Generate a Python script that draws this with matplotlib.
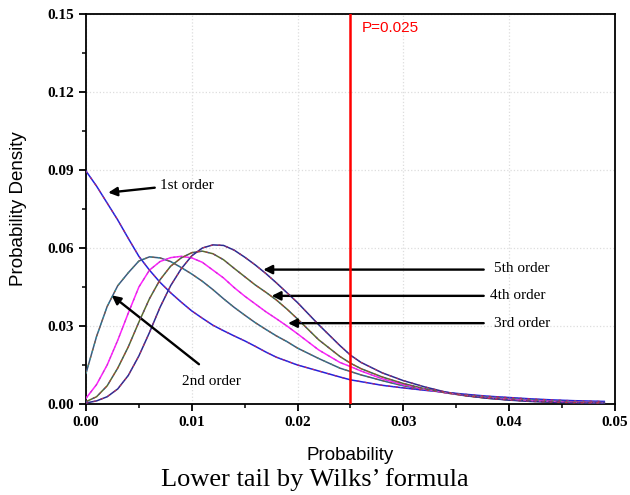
import matplotlib
matplotlib.use("Agg")
import matplotlib.pyplot as plt
from matplotlib.ticker import MultipleLocator

# probability axis (shared by all curves)
prob = [0.000, 0.001, 0.002, 0.003, 0.004, 0.005, 0.006, 0.007, 0.008, 0.009,
        0.010, 0.011, 0.012, 0.013, 0.014, 0.015, 0.016, 0.017, 0.018, 0.019,
        0.020, 0.022, 0.024, 0.025, 0.026, 0.028, 0.030, 0.032, 0.034, 0.036,
        0.038, 0.040, 0.042, 0.044, 0.046, 0.049]

order1 = [0.0896, 0.0838, 0.0773, 0.0708, 0.0637, 0.0568, 0.0515, 0.0468, 0.0428, 0.0392,
          0.0358, 0.0330, 0.0303, 0.0282, 0.0262, 0.0243, 0.0222, 0.0200, 0.0180, 0.0165,
          0.0150, 0.0127, 0.0104, 0.0093, 0.0086, 0.0072, 0.0062, 0.0053, 0.0045, 0.0037,
          0.0030, 0.0025, 0.0020, 0.0016, 0.0013, 0.0010]
order2 = [0.0118, 0.0260, 0.0375, 0.0455, 0.0505, 0.0550, 0.0566, 0.0562, 0.0548, 0.0525,
          0.0500, 0.0472, 0.0440, 0.0405, 0.0372, 0.0342, 0.0313, 0.0287, 0.0262, 0.0240,
          0.0215, 0.0175, 0.0138, 0.0125, 0.0112, 0.0090, 0.0070, 0.0056, 0.0044, 0.0034,
          0.0027, 0.0021, 0.0016, 0.0012, 0.0009, 0.0006]
order3 = [0.0022, 0.0075, 0.0150, 0.0245, 0.0350, 0.0450, 0.0515, 0.0548, 0.0563, 0.0568,
          0.0562, 0.0545, 0.0515, 0.0485, 0.0448, 0.0415, 0.0385, 0.0355, 0.0328, 0.0300,
          0.0270, 0.0208, 0.0160, 0.0144, 0.0127, 0.0097, 0.0074, 0.0057, 0.0043, 0.0032,
          0.0024, 0.0018, 0.0013, 0.0010, 0.0007, 0.0005]
order4 = [0.0009, 0.0028, 0.0070, 0.0138, 0.0220, 0.0315, 0.0405, 0.0478, 0.0530, 0.0562,
          0.0582, 0.0588, 0.0578, 0.0555, 0.0522, 0.0490, 0.0458, 0.0430, 0.0400, 0.0365,
          0.0327, 0.0247, 0.0183, 0.0157, 0.0136, 0.0104, 0.0079, 0.0059, 0.0043, 0.0031,
          0.0022, 0.0016, 0.0011, 0.0008, 0.0006, 0.0004]
order5 = [0.0004, 0.0012, 0.0028, 0.0058, 0.0110, 0.0185, 0.0275, 0.0372, 0.0455, 0.0520,
          0.0570, 0.0600, 0.0612, 0.0610, 0.0592, 0.0565, 0.0535, 0.0502, 0.0466, 0.0428,
          0.0390, 0.0305, 0.0225, 0.0188, 0.0160, 0.0120, 0.0090, 0.0066, 0.0046, 0.0032,
          0.0022, 0.0015, 0.0010, 0.0007, 0.0005, 0.0004]

curves = [order1, order2, order3, order4, order5]
# each curve is a blend of overlapped coloured traces in the original
curve_colors = [("#2020e0", "#d02050", "#6040c0"),
                ("#3c5a80", "#8a6040", "#20a0a0"),
                ("#ff20ff", "#c040c0", "#e030e0"),
                ("#5a6a30", "#b04040", "#3050a0"),
                ("#2a2a90", "#c03050", "#603090")]

P_LINE = 0.025

fig = plt.figure(figsize=(6.3, 4.95), dpi=100)
ax = fig.add_axes([0.1365, 0.1838, 0.8395, 0.7879])

for ys, (c1, c2, c3) in zip(curves, curve_colors):
    ax.plot(prob, ys, color=c1, lw=1.1, zorder=3)
    ax.plot(prob, ys, color=c2, lw=0.8, dashes=(2, 5), zorder=4)
    ax.plot(prob, ys, color=c3, lw=0.7, dashes=(1.5, 6), zorder=4)

ax.axvline(P_LINE, color="red", lw=1.8, zorder=5)
ax.text(P_LINE + 0.0011, 0.1446, "P=0.025", color="red", fontsize=11,
        family="Liberation Sans", va="center", ha="left")

ax.set_xlim(0, 0.05)
ax.set_ylim(0, 0.15)
ax.xaxis.set_major_locator(MultipleLocator(0.01))
ax.xaxis.set_minor_locator(MultipleLocator(0.005))
ax.yaxis.set_major_locator(MultipleLocator(0.03))
ax.yaxis.set_minor_locator(MultipleLocator(0.015))
ax.xaxis.set_major_formatter(lambda v, p: f"{v:.2f}")
ax.yaxis.set_major_formatter(lambda v, p: f"{v:.2f}")
ax.tick_params(which="major", direction="out", length=5, width=1.3,
               top=False, right=False)
ax.tick_params(which="minor", direction="out", length=3, width=1.1,
               top=False, right=False)
for lab in ax.get_xticklabels() + ax.get_yticklabels():
    lab.set_family("Liberation Serif")
    lab.set_fontweight("bold")
    lab.set_fontsize(11)
for sp in ax.spines.values():
    sp.set_linewidth(1.3)
ax.grid(True, which="major", color="#dddddd", ls=":", lw=0.9, zorder=0)

ax.set_xlabel("Probability", family="Liberation Sans", fontsize=13.5, labelpad=13)
ax.set_ylabel("Probability Density", family="Liberation Sans", fontsize=13.5, labelpad=15)

arrow = dict(arrowstyle="-|>", color="black", lw=1.7, mutation_scale=13,
             shrinkA=0, shrinkB=0)
ann = dict(family="Liberation Serif", fontsize=11, va="center")
ax.annotate("", xy=(0.0021, 0.0813), xytext=(0.0065, 0.0832), arrowprops=arrow)
ax.text(0.0070, 0.0841, "1st order", ha="left", **ann)
ax.annotate("", xy=(0.00243, 0.0418), xytext=(0.01068, 0.0153), arrowprops=arrow)
ax.text(0.0119, 0.0085, "2nd order", ha="center", **ann)
ax.annotate("", xy=(0.01676, 0.0517), xytext=(0.0376, 0.0517), arrowprops=arrow)
ax.text(0.0386, 0.0522, "5th order", ha="left", **ann)
ax.annotate("", xy=(0.01755, 0.0416), xytext=(0.0376, 0.0416), arrowprops=arrow)
ax.text(0.0382, 0.0416, "4th order", ha="left", **ann)
ax.annotate("", xy=(0.0191, 0.0311), xytext=(0.0376, 0.0311), arrowprops=arrow)
ax.text(0.0386, 0.0311, "3rd order", ha="left", **ann)

fig.text(0.5, 1 - 480 / 495, "Lower tail by Wilks\u2019 formula",
         family="Liberation Serif", fontsize=19, ha="center", va="center")

fig.savefig("out.png", dpi=100)
